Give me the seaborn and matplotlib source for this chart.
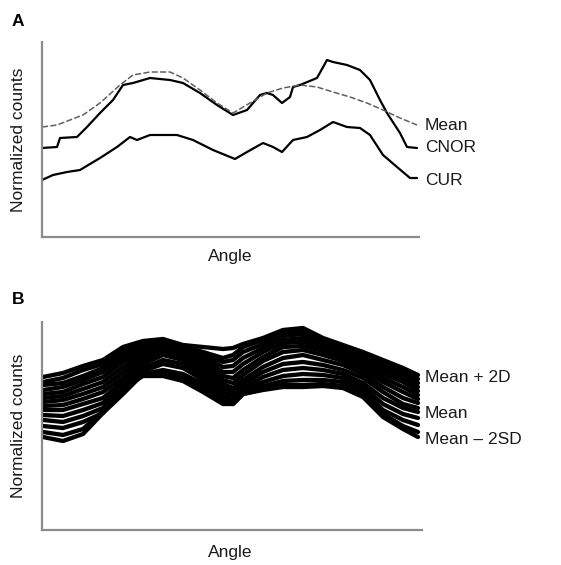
import pandas as pd
import matplotlib.pyplot as plt
import seaborn as sns

# panel A: angle positions and normalized counts
mean_angle = [0, 15, 41, 58, 78, 91, 108, 128, 141, 158, 175, 191, 208, 225,
              241, 258, 275, 291, 308, 325, 341, 358, 375]
mean_counts = [110, 112, 122, 134, 152, 162, 165, 165, 159, 147, 134, 124, 134,
               144, 149, 152, 150, 145, 140, 134, 127, 119, 112]

cnor_angle = [0, 15, 18, 35, 45, 58, 71, 81, 91, 108, 128, 141, 158, 175, 191,
              205, 218, 225, 231, 240, 248, 251, 258, 275, 285, 291, 305, 318,
              328, 338, 345, 358, 365, 375]
cnor_counts = [89, 90, 99, 100, 110, 124, 137, 152, 154, 159, 157, 154, 144,
               132, 122, 127, 142, 144, 142, 134, 140, 150, 152, 159, 177, 175,
               172, 167, 157, 137, 124, 104, 90, 89]

cur_angle = [0, 11, 25, 38, 58, 75, 88, 95, 108, 135, 151, 171, 193, 205, 221,
             231, 240, 251, 265, 278, 291, 305, 318, 328, 341, 355, 368, 375]
cur_counts = [57, 62, 65, 67, 79, 90, 100, 97, 102, 102, 97, 87, 78, 85, 94,
              90, 85, 97, 100, 107, 115, 110, 109, 102, 82, 70, 59, 59]

# panel B: bundle of individual profiles on a shared angle grid
band_angle = [1, 21, 41, 61, 81, 101, 121, 141, 161, 181, 191, 201, 221, 241,
              261, 281, 301, 321, 341, 361, 376]
band_curves = [
    [153, 157, 164, 170, 183, 189, 191, 185, 183, 181, 182, 186, 192, 200, 202, 192, 185, 178, 170, 162, 155],
    [148, 152, 160, 166, 180, 187, 190, 184, 178, 172, 175, 183, 190, 197, 199, 190, 183, 175, 167, 158, 151],
    [145, 147, 154, 162, 176, 185, 188, 183, 176, 168, 170, 178, 186, 194, 196, 188, 181, 172, 163, 155, 147],
    [140, 143, 150, 158, 172, 183, 187, 181, 173, 163, 164, 172, 182, 190, 192, 185, 178, 169, 160, 152, 143],
    [136, 138, 146, 153, 168, 180, 185, 180, 170, 158, 158, 166, 178, 187, 188, 182, 175, 166, 156, 148, 139],
    [132, 134, 141, 148, 163, 177, 183, 178, 167, 154, 152, 160, 173, 183, 184, 179, 172, 163, 152, 143, 135],
    [128, 130, 136, 143, 158, 174, 181, 176, 164, 150, 147, 155, 169, 178, 180, 175, 169, 160, 148, 138, 131],
    [124, 125, 131, 138, 153, 170, 178, 173, 161, 146, 142, 150, 163, 172, 175, 170, 165, 156, 143, 132, 127],
    [120, 120, 126, 132, 149, 166, 175, 170, 158, 142, 138, 146, 158, 166, 168, 165, 160, 152, 138, 126, 122],
    [115, 114, 120, 127, 145, 162, 170, 166, 154, 138, 134, 142, 153, 160, 162, 160, 156, 147, 132, 122, 118],
    [110, 108, 114, 122, 140, 159, 166, 162, 150, 134, 130, 140, 148, 154, 156, 155, 152, 143, 126, 116, 112],
    [104, 102, 108, 117, 136, 156, 160, 156, 146, 130, 127, 138, 144, 149, 150, 150, 148, 139, 120, 110, 105],
    [98, 95, 101, 119, 140, 155, 157, 152, 142, 128, 126, 136, 141, 145, 145, 146, 144, 136, 116, 104, 98],
    [93, 89, 96, 117, 142, 154, 154, 149, 138, 126, 126, 136, 140, 143, 143, 144, 142, 133, 113, 101, 93],
]

W, H = 561, 565


def fx(px):
    return px / W


def fy(py):
    return 1 - py / H


def style_axes(ax, xmax, ymax):
    ax.set_xlim(0, xmax)
    ax.set_ylim(0, ymax)
    ax.set_xticks([])
    ax.set_yticks([])
    ax.set_xlabel("")
    ax.set_ylabel("")
    for side in ["top", "right"]:
        ax.spines[side].set_visible(False)
    for side in ["left", "bottom"]:
        ax.spines[side].set_color("#8c8c8c")
        ax.spines[side].set_linewidth(1.6)
    if ax.get_legend() is not None:
        ax.get_legend().remove()


sns.set_style("white")
plt.rcParams["font.family"] = ["Liberation Sans", "DejaVu Sans"]

fig = plt.figure(figsize=(W / 100, H / 100), dpi=100)
ax_a = fig.add_axes([fx(42), fy(237), fx(419) - fx(42), fy(42) - fy(237)])
ax_b = fig.add_axes([fx(42), fy(530), fx(422) - fx(42), fy(322) - fy(530)])

# panel A
sns.lineplot(x=cnor_angle, y=cnor_counts, ax=ax_a, color="black", lw=1.6)
sns.lineplot(x=cur_angle, y=cur_counts, ax=ax_a, color="black", lw=1.6)
sns.lineplot(x=mean_angle, y=mean_counts, ax=ax_a, color="#606060", lw=1.1)
ax_a.lines[-1].set_dashes([4, 1.5])
style_axes(ax_a, 377, 195)

# panel B
rows = []
for i, curve in enumerate(band_curves):
    for a, c in zip(band_angle, curve):
        rows.append({"curve": i, "angle": a, "counts": c})
df_b = pd.DataFrame(rows)
sns.lineplot(data=df_b, x="angle", y="counts", units="curve", estimator=None,
             color="black", lw=3.1, ax=ax_b)
style_axes(ax_b, 380, 208)

fs = 12.5
fig.text(fx(12), fy(21), "A", fontsize=12.5, fontweight="bold", va="center",
         color="black")
fig.text(fx(12), fy(300), "B", fontsize=12.5, fontweight="bold", va="center",
         color="black")

for label, py in [("Mean", 125), ("CNOR", 147), ("CUR", 180)]:
    fig.text(fx(425), fy(py), label, fontsize=fs, va="center", color="#1a1a1a")
for label, py in [("Mean + 2D", 377), ("Mean", 413), ("Mean \u2013 2SD", 440)]:
    fig.text(fx(425), fy(py), label, fontsize=fs, va="center", color="#1a1a1a")

fig.text(fx(230), fy(256), "Angle", fontsize=fs, ha="center", va="center",
         color="#1a1a1a")
fig.text(fx(230), fy(552), "Angle", fontsize=fs, ha="center", va="center",
         color="#1a1a1a")
fig.text(fx(19), fy(140), "Normalized counts", fontsize=fs, rotation=90,
         ha="center", va="center", color="#1a1a1a")
fig.text(fx(19), fy(426), "Normalized counts", fontsize=fs, rotation=90,
         ha="center", va="center", color="#1a1a1a")

fig.savefig("out.png", dpi=100)
plt.close(fig)
